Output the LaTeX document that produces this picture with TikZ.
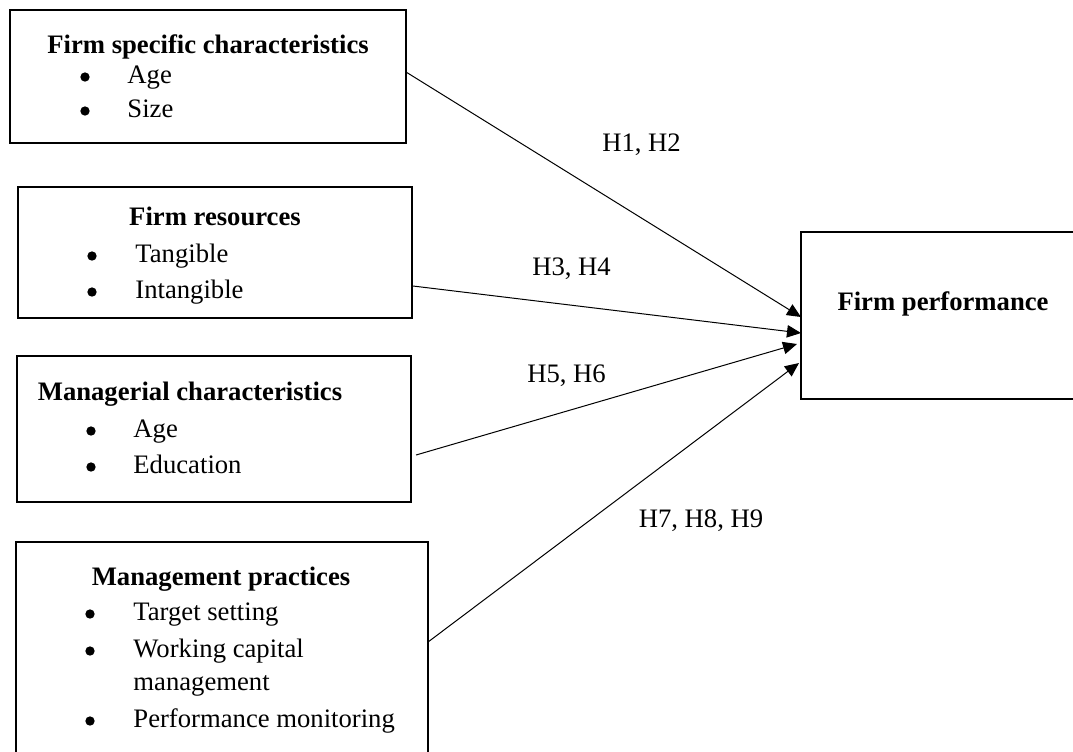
\documentclass[tikz,border=0pt]{standalone}
\usepackage{fontspec}
\setmainfont{Liberation Serif}
\usetikzlibrary{arrows.meta, calc}

\newcommand\txtsize{\fontsize{12}{14}\selectfont}

\begin{document}
\begin{tikzpicture}[x=0.45pt, y=-0.45pt, >={Triangle[length=6.3pt,width=5.6pt]},
    box/.style 2 args={draw, line width=1.15pt, inner sep=0pt, outer sep=0pt,
        minimum width=#1*0.45pt, minimum height=#2*0.45pt},
    title/.style={anchor=base, font=\txtsize\bfseries},
    item/.style={anchor=base west, inner sep=0pt, font=\txtsize},
    hyp/.style={anchor=base, inner sep=0pt, font=\txtsize},
    link/.style={->, line width=0.45pt}]

        % page size
        \useasboundingbox (0,0) rectangle (1073,751);
        \clip (0,0) rectangle (1073,751);

        % the boxes
        \node[box={396}{133}] (fsc)  at (208,76.5) {};
        \node[box={394}{131}] (res)  at (215,252.5) {};
        \node[box={394}{146}] (mgr)  at (214,429) {};
        \node[box={412}{228}] (prac) at (222,656) {};
        \node[box={299}{167}] (perf) at (950.5,315.5) {};

        % box titles
        \node[title] (fscT)  at (208,53)  {Firm specific characteristics};
        \node[title] (resT)  at (215,225) {Firm resources};
        \node[title] (mgrT)  at (190,400) {Managerial characteristics};
        \node[title] (pracT) at (221,585) {Management practices};
        \node[title] (perfT) at (943,310) {Firm performance};

        % bullet items
        \foreach \nm/\bx/\tx/\yb/\txt in {
            fscA/85/127/83/Age, fscB/85/127/117/Size,
            resA/92/135/262/Tangible, resB/92/135/298/Intangible,
            mgrA/91/133/437/Age, mgrB/91/133/473/Education,
            pracA/90/133/620/Target setting, pracB/90/133/657/Working capital,
            pracD/90/133/727/Performance monitoring} {
            \fill (\bx,\yb-6) circle (2.1pt);
            \node[item] (\nm) at (\tx,\yb) {\txt};
        }
        \node[item] (pracC) at (133,690) {management};

        % the arrows
        \draw[link] ($(fsc.east)+(0,-4.5)$) -- ($(perf.west)+(0,1.5)$);
        \draw[link] ($(res.east)+(1,33.5)$) -- ($(perf.west)+(0,17.5)$);
        \draw[link] ($(mgr.east)+(5,26)$) -- ($(perf.west)+(-4,28.5)$);
        \draw[link] ($(prac.east)+(0,-14)$) -- ($(perf.west)+(-2,47.5)$);

        % hypothesis labels
        \node[hyp] (h12)  at (641.5,151) {H1, H2};
        \node[hyp] (h34)  at (571.5,275) {H3, H4};
        \node[hyp] (h56)  at (566.5,382) {H5, H6};
        \node[hyp] (h789) at (701,527)   {H7, H8, H9};
\end{tikzpicture}
\end{document}
